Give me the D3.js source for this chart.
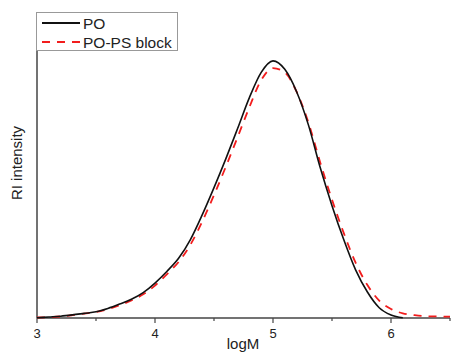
<!DOCTYPE html>
<html>
<head>
  <script src="https://d3js.org/d3.v7.min.js"></script>
  <style>
    body { margin: 0; background: #fff; }
    text { font-family: "Liberation Sans", Arial, sans-serif; fill: #222; }
  </style>
</head>
<body>
<svg id="chart" width="452" height="353"></svg>
<script>
  // logM grid (0.1 steps)
  const logM = [3.0,3.1,3.2,3.3,3.4,3.5,3.6,3.7,3.8,3.9,4.0,4.1,4.2,4.3,4.4,4.5,4.6,4.7,4.8,4.9,
                5.0,5.1,5.2,5.3,5.4,5.5,5.6,5.7,5.8,5.9,6.0,6.1,6.2,6.3,6.4,6.5];
  const poValues = [0.001,0.004,0.007,0.012,0.018,0.024,0.037,0.054,0.073,0.099,0.136,0.181,0.232,0.305,0.401,0.507,0.619,0.737,0.857,0.955,
                    1.0,0.967,0.880,0.751,0.585,0.437,0.304,0.187,0.101,0.040,0.012,0.001,null,null,null,null];
  const blockValues = [0.002,0.003,0.006,0.011,0.017,0.023,0.034,0.050,0.068,0.092,0.126,0.170,0.218,0.285,0.375,0.478,0.588,0.703,0.820,0.925,
                       0.972,0.955,0.880,0.760,0.605,0.460,0.330,0.215,0.128,0.068,0.035,0.018,0.011,0.007,0.006,0.005];
  const xTicks = [3, 4, 5, 6];
  const seriesNames = ["PO", "PO-PS block"];

  const svg = d3.select("#chart");
  const m = { left: 37, right: 450, top: 12, bottom: 318 };

  const x = d3.scaleLinear().domain([3, 6.5]).range([m.left, m.right]);
  const y = d3.scaleLinear().domain([0, 1.19]).range([m.bottom, m.top]);

  // x axis with minor ticks
  const minor = d3.range(3, 6.51, 0.5);
  svg.append("g")
    .selectAll("line")
    .data(minor)
    .join("line")
    .attr("x1", d => x(d)).attr("x2", d => x(d))
    .attr("y1", m.bottom).attr("y2", d => m.bottom + (Number.isInteger(d) ? 5 : 3))
    .attr("stroke", "#444").attr("stroke-width", 1.2);

  svg.append("line")
    .attr("x1", m.left).attr("x2", m.right)
    .attr("y1", m.bottom).attr("y2", m.bottom)
    .attr("stroke", "#444").attr("stroke-width", 1.5);
  svg.append("line")
    .attr("x1", m.left).attr("x2", m.left)
    .attr("y1", m.top).attr("y2", m.bottom)
    .attr("stroke", "#444").attr("stroke-width", 1.5);

  svg.append("g")
    .selectAll("text")
    .data(xTicks)
    .join("text")
    .attr("x", d => x(d)).attr("y", m.bottom + 20)
    .attr("text-anchor", "middle")
    .attr("font-size", 13)
    .text(d => d);

  svg.append("text")
    .attr("x", 243).attr("y", 349)
    .attr("text-anchor", "middle")
    .attr("font-size", 15)
    .text("logM");

  svg.append("text")
    .attr("transform", "translate(22,163) rotate(-90)")
    .attr("text-anchor", "middle")
    .attr("font-size", 15)
    .text("RI intensity");

  const line = d3.line()
    .defined(d => d[1] != null)
    .x(d => x(d[0])).y(d => y(d[1]))
    .curve(d3.curveMonotoneX);

  svg.append("path")
    .datum(logM.map((v, i) => [v, blockValues[i]]))
    .attr("d", line)
    .attr("fill", "none").attr("stroke", "#f21d1d")
    .attr("stroke-width", 1.8).attr("stroke-dasharray", "8,7");

  svg.append("path")
    .datum(logM.map((v, i) => [v, poValues[i]]))
    .attr("d", line)
    .attr("fill", "none").attr("stroke", "#111")
    .attr("stroke-width", 1.6);

  // legend
  const lg = svg.append("g");
  lg.append("rect")
    .attr("x", 36.5).attr("y", 12.5).attr("width", 141).attr("height", 38)
    .attr("fill", "#fff").attr("stroke", "#999").attr("stroke-width", 1);
  const styles = [{ c: "#111", d: null }, { c: "#f21d1d", d: "8,7" }];
  seriesNames.forEach((name, i) => {
    const yy = 23 + i * 19;
    lg.append("line")
      .attr("x1", 42).attr("x2", 80).attr("y1", yy).attr("y2", yy)
      .attr("stroke", styles[i].c).attr("stroke-width", 1.8)
      .attr("stroke-dasharray", styles[i].d);
    lg.append("text")
      .attr("x", 83).attr("y", yy + 5.5)
      .attr("font-size", 15.5)
      .text(name);
  });
</script>
</body>
</html>
